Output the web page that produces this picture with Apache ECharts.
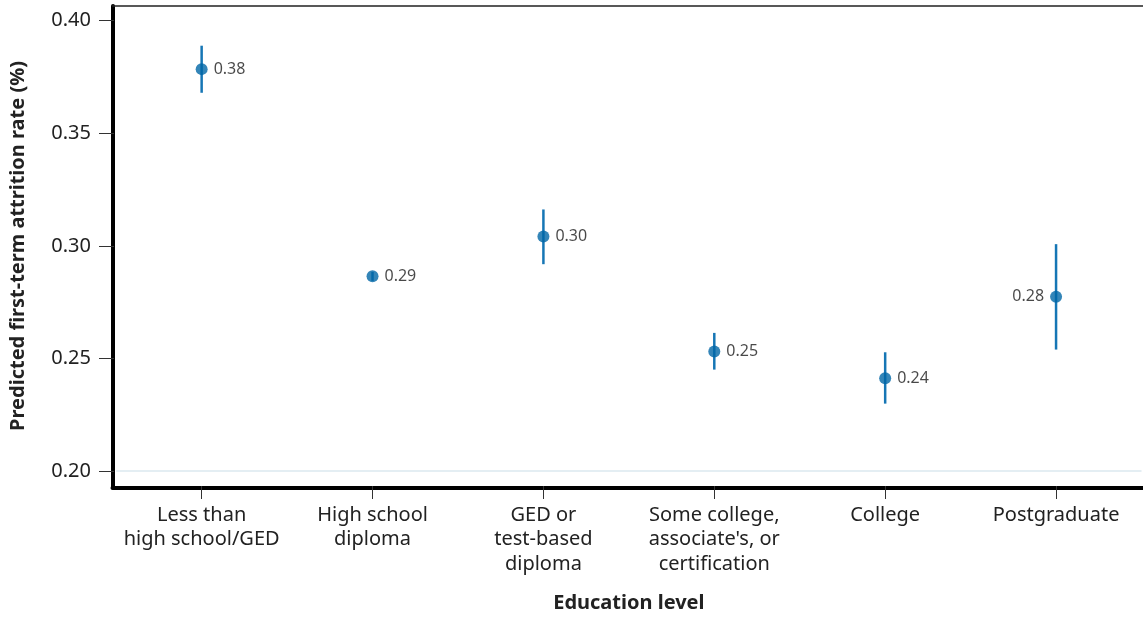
<!DOCTYPE html>
<html>
<head>
<meta charset="utf-8">
<script src="https://cdn.jsdelivr.net/npm/echarts@6/dist/echarts.min.js"></script>
<style>
html,body{margin:0;padding:0;background:#fff;}
#chart{width:1143px;height:618px;}
</style>
</head>
<body>
<div id="chart"></div>
<script>
var categories = ['Less than\nhigh school/GED', 'High school\ndiploma', 'GED or\ntest-based\ndiploma', "Some college,\nassociate's, or\ncertification", 'College', 'Postgraduate'];
var estimates = [0.3785, 0.2865, 0.3042, 0.2531, 0.2413, 0.2774];
var lowerBounds = [0.3680, 0.2845, 0.2919, 0.2451, 0.2300, 0.2540];
var upperBounds = [0.3889, 0.2885, 0.3162, 0.2614, 0.2528, 0.3008];
var yTicks = [0.20, 0.25, 0.30, 0.35, 0.40];

var FONT = 'Noto Sans';
var BLUE = '#0066a6';
var BAR = '#1676b5';
var chart = echarts.init(document.getElementById('chart'), null, {renderer: 'canvas'});

var errData = categories.map(function (c, i) { return [i, lowerBounds[i], upperBounds[i]]; });
var ptData = categories.map(function (c, i) {
  return {
    value: [i, estimates[i]],
    label: { position: c === 'Postgraduate' ? 'left' : 'right' }
  };
});

chart.setOption({
  animation: false,
  backgroundColor: '#fff',
  grid: [
    { left: 112.5, right: 0, top: 6, bottom: 130.5 },
    { left: 114.7, right: 1.5, top: 20.7, bottom: 145.3 }
  ],
  xAxis: [
    { gridIndex: 0, type: 'value', min: 0, max: 1, position: 'bottom',
      axisLine: { show: true, lineStyle: { color: '#000', width: 4 } },
      axisTick: { show: false }, axisLabel: { show: false }, splitLine: { show: false } },
    { gridIndex: 0, type: 'value', min: 0, max: 1, position: 'top',
      axisLine: { show: true, lineStyle: { color: '#222', width: 1.5 } },
      axisTick: { show: false }, axisLabel: { show: false }, splitLine: { show: false } },
    { gridIndex: 1, type: 'category', data: categories, offset: 14.8, boundaryGap: true,
      axisLine: { show: false },
      axisTick: { show: true, alignWithLabel: true, length: 13, lineStyle: { color: '#333', width: 1 } },
      axisLabel: { fontFamily: FONT, fontSize: 20, color: '#222', lineHeight: 24.4, margin: 17, interval: 0 },
      name: 'Education level', nameLocation: 'middle', nameGap: 107,
      nameTextStyle: { fontFamily: FONT, fontSize: 20, fontWeight: 'bold', color: '#222' },
      splitLine: { show: false } }
  ],
  yAxis: [
    { gridIndex: 0, type: 'value', min: 0, max: 1, position: 'left',
      axisLine: { show: true, lineStyle: { color: '#000', width: 4 } },
      axisTick: { show: false }, axisLabel: { show: false }, splitLine: { show: false } },
    { gridIndex: 1, type: 'value', min: yTicks[0], max: yTicks[yTicks.length - 1], interval: 0.05, offset: 2.2,
      axisLine: { show: false },
      axisTick: { show: true, length: 15, lineStyle: { color: '#333', width: 1 } },
      axisLabel: { fontFamily: FONT, fontSize: 20, color: '#222', margin: 23,
        formatter: function (v) { return v.toFixed(2); } },
      splitLine: { show: true, lineStyle: { color: ['#e4eef3', 'rgba(0,0,0,0)', 'rgba(0,0,0,0)', 'rgba(0,0,0,0)', 'rgba(0,0,0,0)'], width: 2 } },
      name: 'Predicted first-term attrition rate (%)', nameLocation: 'middle', nameGap: 86,
      nameTextStyle: { fontFamily: FONT, fontSize: 20, fontWeight: 'bold', color: '#222' } }
  ],
  series: [
    {
      type: 'custom', xAxisIndex: 2, yAxisIndex: 1, data: errData, z: 2,
      renderItem: function (params, api) {
        var lo = api.coord([api.value(0), api.value(1)]);
        var hi = api.coord([api.value(0), api.value(2)]);
        return { type: 'line', shape: { x1: lo[0], y1: lo[1], x2: hi[0], y2: hi[1] },
          style: { stroke: BAR, lineWidth: 2.5 } };
      }
    },
    {
      type: 'scatter', xAxisIndex: 2, yAxisIndex: 1, data: ptData, z: 3,
      symbol: 'circle', symbolSize: 12,
      itemStyle: { color: BLUE },
      label: { show: true, distance: 6, fontFamily: FONT, fontSize: 16, color: '#1a1a1a',
        formatter: function (p) { return p.value[1].toFixed(2); } }
    }
  ]
});
</script>
</body>
</html>
